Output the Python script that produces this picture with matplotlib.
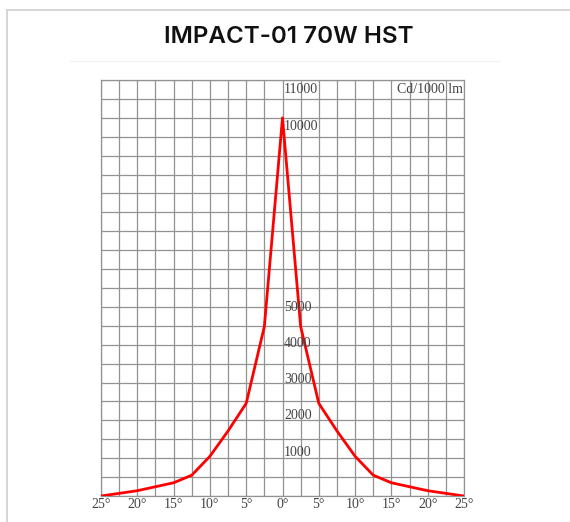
import numpy as np
import matplotlib.pyplot as plt

# Beam intensity curve (symmetric)
angles = [-25, -20, -15, -12.5, -10, -7.5, -5, -2.5, 0, 2.5, 5, 7.5, 10, 12.5, 15, 20, 25]
intensity = [0, 140, 350, 550, 1050, 1720, 2450, 4480, 10000, 4480, 2450, 1720, 1050, 550, 350, 140, 0]

x_ticks = [-25, -20, -15, -10, -5, 0, 5, 10, 15, 20, 25]
y_labels = [1000, 2000, 3000, 4000, 5000, 10000, 11000]

title = "IMPACT-01 70W HST"
unit_label = "Cd/1000 lm"

fig = plt.figure(figsize=(5.70, 5.22), dpi=100)
fig.patch.set_facecolor("white")

# Card border lines (left and top)
fig.add_artist(plt.Line2D([7/570, 7/570], [0, 1 - 10/522], color="#d0d0d0", lw=1.2))
fig.add_artist(plt.Line2D([7/570, 1], [1 - 10/522, 1 - 10/522], color="#d0d0d0", lw=1.2))
fig.add_artist(plt.Line2D([70/570, 500/570], [1 - 61/522, 1 - 61/522], color="#f0f0f0", lw=0.8))

fig.text(289/570, 1 - 37/522, title, ha="center", va="center",
         fontsize=17.4, fontweight="semibold", family="Inter", color="#111111")

ax = fig.add_axes([101/570, 26/522, 363/570, 416/522])
ax.plot(angles, intensity, color="#ff0000", lw=2.0, solid_joinstyle="round", zorder=3)

ax.set_xlim(-25, 25)
ax.set_ylim(0, 11000)
ax.set_xticks(np.arange(-25, 25.1, 2.5))
ax.set_yticks(np.arange(0, 11001, 500))
ax.grid(True, color="#929292", lw=0.9)
ax.tick_params(length=0, labelleft=False, labelbottom=False)
for s in ax.spines.values():
    s.set_color("#929292")
    s.set_linewidth(0.9)

serif = "Liberation Serif"
for t in x_ticks:
    ax.text(t, -60, f"{abs(t)}°", ha="center", va="top", fontsize=10,
            family=serif, color="#444444", clip_on=False)

for v in y_labels:
    ax.text(0.2, v * 0.958 + 202, str(v), ha="left", va="center", fontsize=10,
            family=serif, color="#444444", zorder=4)

ax.text(24.8, 10760, unit_label, ha="right", va="center", fontsize=10,
        family=serif, color="#444444")

fig.savefig("out.png", dpi=100, facecolor="white")
